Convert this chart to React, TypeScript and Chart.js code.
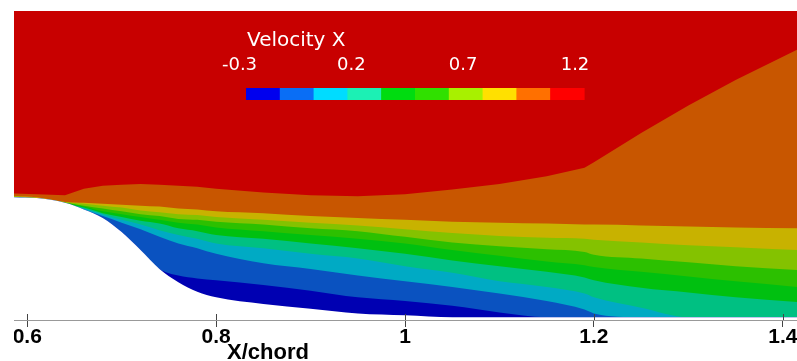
import React, { useEffect, useRef } from "react";
import { Chart, registerables } from "chart.js";

Chart.register(...registerables);

// X/chord stations
const xChord = [0.586, 0.61, 0.64, 0.66, 0.68, 0.70, 0.72, 0.74, 0.76, 0.78, 0.80, 0.85, 0.90, 0.95, 1.00, 1.05, 1.10, 1.15, 1.19, 1.20, 1.25, 1.30, 1.35, 1.415];

// Y/chord of the upper edge of each velocity band (contour level boundaries)
const orangeTop = [0.134, 0.133, 0.132, 0.139, 0.142, 0.143, 0.144, 0.143, 0.142, 0.141, 0.139, 0.135, 0.132, 0.131, 0.133, 0.138, 0.144, 0.152, 0.161, 0.167, 0.198, 0.227, 0.254, 0.286];
const yellowTop = [0.131, 0.130, 0.125, 0.124, 0.123, 0.122, 0.121, 0.120, 0.118, 0.117, 0.115, 0.113, 0.110, 0.108, 0.106, 0.104, 0.103, 0.102, 0.101, 0.101, 0.100, 0.099, 0.098, 0.097];
const yellowGreenTop = [0.131, 0.129, 0.125, 0.123, 0.121, 0.119, 0.116, 0.114, 0.112, 0.111, 0.109, 0.106, 0.103, 0.100, 0.096, 0.092, 0.089, 0.087, 0.086, 0.085, 0.082, 0.079, 0.077, 0.074];
const greenUpTop = [0.130, 0.129, 0.124, 0.121, 0.118, 0.115, 0.112, 0.110, 0.107, 0.106, 0.104, 0.101, 0.097, 0.094, 0.088, 0.082, 0.078, 0.075, 0.072, 0.069, 0.065, 0.061, 0.057, 0.053];
const greenLowTop = [0.130, 0.128, 0.124, 0.120, 0.115, 0.112, 0.109, 0.106, 0.103, 0.101, 0.098, 0.094, 0.090, 0.086, 0.081, 0.074, 0.068, 0.062, 0.058, 0.056, 0.051, 0.046, 0.041, 0.035];
const tealTop = [0.130, 0.128, 0.123, 0.119, 0.113, 0.109, 0.105, 0.102, 0.097, 0.094, 0.090, 0.086, 0.081, 0.076, 0.070, 0.063, 0.057, 0.051, 0.045, 0.042, 0.034, 0.029, 0.024, 0.019];
const cyanTop = [0.130, 0.128, 0.123, 0.118, 0.112, 0.106, 0.101, 0.095, 0.090, 0.086, 0.081, 0.076, 0.070, 0.065, 0.057, 0.050, 0.041, 0.035, 0.028, 0.024, 0.013, 0.003, 0.003, 0.003];
const blueTop = [0.130, 0.128, 0.123, 0.117, 0.110, 0.103, 0.096, 0.088, 0.081, 0.076, 0.070, 0.060, 0.054, 0.047, 0.041, 0.035, 0.028, 0.020, 0.011, 0.007, 0.003, 0.003, 0.003, 0.003];
const darkBlueTop = [0.130, 0.129, 0.124, 0.117, 0.108, 0.093, 0.074, 0.054, 0.047, 0.044, 0.042, 0.037, 0.031, 0.024, 0.020, 0.015, 0.008, 0.003, 0.003, 0.003, 0.003, 0.003, 0.003, 0.003];
const wallY = [0.130, 0.129, 0.124, 0.117, 0.108, 0.093, 0.074, 0.054, 0.040, 0.030, 0.024, 0.017, 0.012, 0.007, 0.005, 0.003, 0.003, 0.003, 0.003, 0.003, 0.003, 0.003, 0.003, 0.003];

const xTicks = [0.6, 0.8, 1.0, 1.2, 1.4];
const legendTitle = "Velocity X";
const legendLabels = ["-0.3", "0.2", "0.7", "1.2"];
const legendColors = ["#0000ee", "#0a6ef5", "#00dcff", "#1cf0b4", "#00dc10", "#30e000", "#a8f000", "#ffe000", "#ff7000", "#ff0000"];
const freeStreamColor = "#c80000";

const bands = [
  { name: "wall", top: wallY, color: "#ffffff" },
  { name: "-0.3", top: darkBlueTop, color: "#0000b2" },
  { name: "-0.15", top: blueTop, color: "#0a52c0" },
  { name: "0", top: cyanTop, color: "#00aac4" },
  { name: "0.15", top: tealTop, color: "#00c082" },
  { name: "0.3", top: greenLowTop, color: "#00c010" },
  { name: "0.45", top: greenUpTop, color: "#2cc000" },
  { name: "0.6", top: yellowGreenTop, color: "#84c200" },
  { name: "0.75", top: yellowTop, color: "#c8b200" },
  { name: "0.9", top: orangeTop, color: "#c85600" },
];

const contourPlugin = {
  id: "contourDecor",
  beforeDatasetsDraw(chart: any) {
    const { ctx, chartArea } = chart;
    ctx.save();
    ctx.fillStyle = freeStreamColor;
    ctx.fillRect(chartArea.left, chartArea.top, chartArea.right - chartArea.left, chartArea.bottom - chartArea.top);
    ctx.restore();
  },
  afterDraw(chart: any) {
    const { ctx, chartArea } = chart;
    const xs = chart.scales.x;
    ctx.save();
    ctx.strokeStyle = "#444";
    ctx.lineWidth = 1;
    xTicks.forEach((v) => {
      const px = Math.round(xs.getPixelForValue(v)) + 0.5;
      ctx.beginPath();
      ctx.moveTo(px, chartArea.bottom - 6);
      ctx.lineTo(px, chartArea.bottom);
      ctx.stroke();
    });
    ctx.fillStyle = "#000";
    ctx.font = "bold 22px 'Liberation Sans', Arial, sans-serif";
    ctx.textAlign = "left";
    ctx.textBaseline = "alphabetic";
    ctx.fillText("X/chord", 213, 359);

    const barLeft = 232;
    const barTop = 88;
    const barW = 338;
    const barH = 12;
    const cw = barW / legendColors.length;
    legendColors.forEach((c, i) => {
      ctx.fillStyle = c;
      ctx.fillRect(barLeft + i * cw, barTop, cw + 0.6, barH);
    });
    ctx.fillStyle = "#ffffff";
    ctx.font = "20px 'DejaVu Sans', sans-serif";
    ctx.textAlign = "left";
    ctx.fillText(legendTitle, 233, 46);
    ctx.font = "18px 'DejaVu Sans', sans-serif";
    ctx.textAlign = "center";
    const labStart = 225.5;
    const labSpan = 335.5;
    legendLabels.forEach((t, i) => {
      ctx.fillText(t, labStart + (labSpan * i) / (legendLabels.length - 1), 69.5);
    });
    ctx.restore();
  },
};

export default function App() {
  const ref = useRef<HTMLCanvasElement | null>(null);
  useEffect(() => {
    if (!ref.current) return;
    const datasets = bands.map((b, i) => ({
      label: b.name,
      data: xChord.map((x, k) => ({ x, y: b.top[k] })),
      backgroundColor: b.color,
      borderColor: "rgba(0,0,0,0)",
      borderWidth: 0,
      pointRadius: 0,
      tension: 0,
      cubicInterpolationMode: b.top === orangeTop ? "default" : "monotone",
      fill: "start",
      order: i,
    }));
    const chart = new Chart(ref.current, {
      type: "line",
      data: { datasets },
      options: {
        animation: false,
        responsive: false,
        devicePixelRatio: 1,
        layout: { padding: { top: 11, left: 0, right: 0, bottom: 0 } },
        plugins: { legend: { display: false }, tooltip: { enabled: false }, title: { display: false } },
        scales: {
          x: {
            type: "linear",
            min: 0.586,
            max: 1.415,
            afterBuildTicks: (s: any) => {
              s.ticks = xTicks.map((v) => ({ value: v }));
            },
            afterFit: (s: any) => {
              s.height = 41;
              s.paddingLeft = 0;
              s.paddingRight = 0;
            },
            border: { display: true, color: "#999", width: 2 },
            grid: { drawOnChartArea: false, drawTicks: true, tickLength: 7, color: "#444", lineWidth: 1 },
            ticks: {
              autoSkip: false,
              maxRotation: 0,
              padding: 0,
              color: "#000",
              font: { family: "'Liberation Sans', Arial, sans-serif", size: 21, weight: "bold", lineHeight: 1 },
              callback: (v: any) => String(Math.round(Number(v) * 10) / 10),
            },
          },
          y: { type: "linear", min: 0, max: 0.327, display: false },
        },
      },
      plugins: [contourPlugin],
    });
    return () => chart.destroy();
  }, []);
  return (
    <div style={{ position: "absolute", left: 14, top: 0, width: 783, height: 361, overflow: "hidden" }}>
      <canvas ref={ref} width={783} height={361} style={{ display: "block" }} />
    </div>
  );
}
